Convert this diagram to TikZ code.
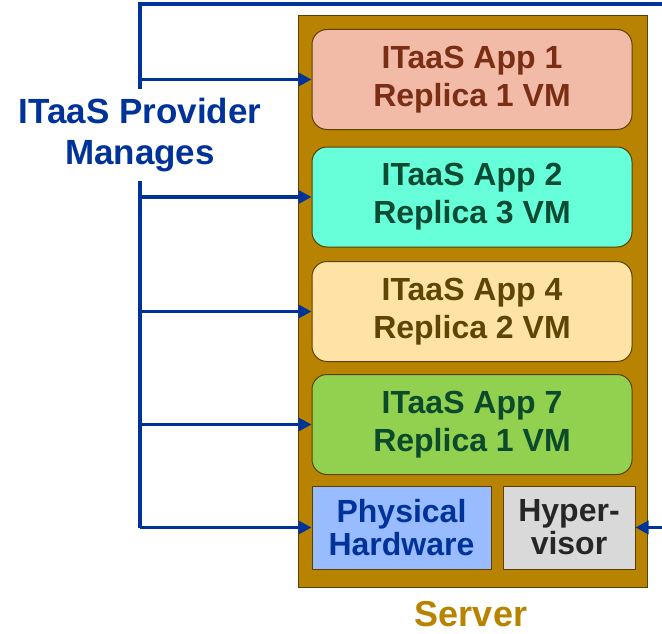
\documentclass[tikz,border=0pt]{standalone}
\usepackage{fontspec}
\setmainfont{Liberation Sans}
\usetikzlibrary{arrows.meta}
\definecolor{srvfill}{HTML}{B78300}
\definecolor{srvtext}{HTML}{B78300}
\definecolor{navy}{HTML}{003399}
\definecolor{boxline}{HTML}{5A4000}
\definecolor{aonefill}{HTML}{F2BBA8}
\definecolor{aonetext}{HTML}{7A2E14}
\definecolor{atwofill}{HTML}{66FFDA}
\definecolor{atwotext}{HTML}{0B4A33}
\definecolor{afourfill}{HTML}{FFE3A6}
\definecolor{afourtext}{HTML}{5E4506}
\definecolor{asevenfill}{HTML}{92D050}
\definecolor{aseventext}{HTML}{0B4A2A}
\definecolor{physfill}{HTML}{99BBFF}
\definecolor{hypfill}{HTML}{D9D9D9}
\definecolor{hyptext}{HTML}{262626}
\begin{document}
\begin{tikzpicture}[x=1pt,y=-1pt,
  appbox/.style={draw=boxline, line width=1pt, rounded corners=15pt, minimum width=320pt, minimum height=100pt, align=center, inner sep=0pt, font=\bfseries\fontsize{32}{38}\selectfont},
  hwbox/.style={draw=boxline, line width=1pt, minimum height=83pt, align=center, inner sep=0pt, font=\bfseries\fontsize{32}{33}\selectfont},
  conn/.style={draw=navy, line width=3.5pt},
  arr/.style={conn, -{Triangle[length=13pt,width=13pt]}}]
\useasboundingbox (0,0) rectangle (662,634);
% server
\node[draw=boxline, line width=1pt, fill=srvfill, minimum width=349pt, minimum height=571pt, inner sep=0pt] (server) at (472.5,301.5) {};
\node[appbox, fill=aonefill, text=aonetext] (app1) at (472,79.5) {ITaaS App 1\\Replica 1 VM};
\node[appbox, fill=atwofill, text=atwotext] (app2) at (472,197) {ITaaS App 2\\Replica 3 VM};
\node[appbox, fill=afourfill, text=afourtext] (app4) at (472,311.5) {ITaaS App 4\\Replica 2 VM};
\node[appbox, fill=asevenfill, text=aseventext] (app7) at (472,424.5) {ITaaS App 7\\Replica 1 VM};
\node[hwbox, fill=physfill, text=navy, minimum width=179pt] (phys) at (401.5,527.5) {Physical\\Hardware};
\node[hwbox, fill=hypfill, text=hyptext, minimum width=132pt] (hyp) at (569,527.5) {Hyper-\\visor};
\node[text=srvtext, font=\bfseries\fontsize{36}{40}\selectfont] (srvlabel) at (471,614) {Server};
% connectors
\coordinate (tl) at (140,4);
\coordinate (tr) at (662,4);
\coordinate (bl) at (140,527.5);
\coordinate (hr) at (662,527.5);
\draw[conn] (tr) -- (tl) -- (bl);
\draw[arr] (tl |- app1.west) -- (app1.west);
\draw[arr] (tl |- app2.west) -- (app2.west);
\draw[arr] (tl |- app4.west) -- (app4.west);
\draw[arr] (tl |- app7.west) -- (app7.west);
\draw[arr] (bl) -- (phys.west);
\draw[arr] (hr) -- (hyp.east);
% provider label
\node[fill=white, text=navy, align=center, inner xsep=4pt, inner ysep=9pt, font=\bfseries\fontsize{35}{41}\selectfont] (prov) at (140,135) {ITaaS Provider\\Manages};
\end{tikzpicture}
\end{document}
